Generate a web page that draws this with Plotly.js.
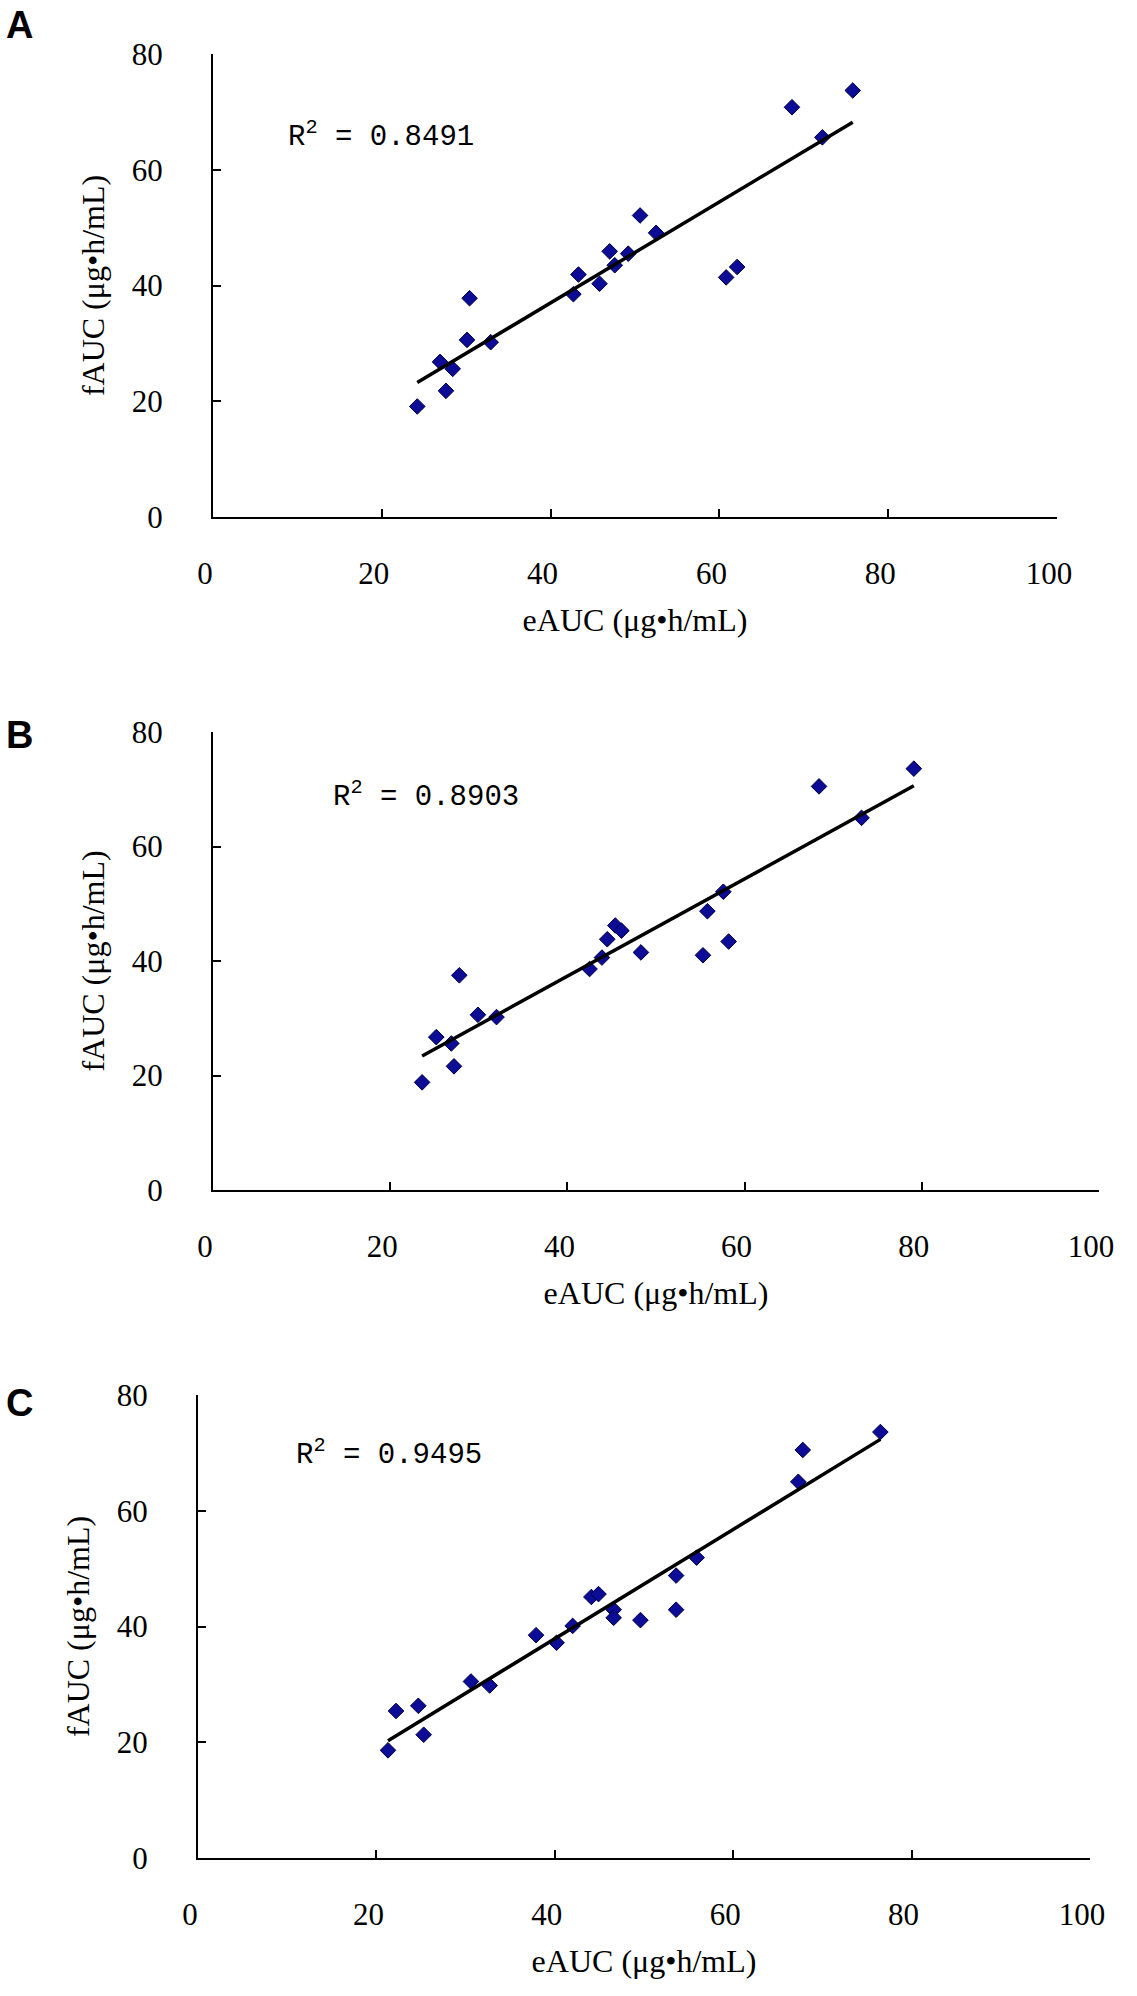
<!DOCTYPE html>
<html>
<head>
<meta charset="utf-8">
<script src="https://cdn.plot.ly/plotly-3.0.1.min.js"></script>
<style>html,body{margin:0;padding:0;background:#fff;}#chart{width:1137px;height:1996px;}</style>
</head>
<body>
<div id="chart"></div>
<script>
// ---- Data ----
const panelLabels = ["A", "B", "C"];
const r2Labels = ["0.8491", "0.8903", "0.9495"];

const eAUC_A = [24.2, 26.9, 27.6, 28.4, 30.1, 30.4, 32.9, 42.7, 43.3, 45.8, 47.0, 47.6, 49.2, 50.6, 52.5, 60.8, 62.1, 68.6, 72.2, 75.8];
const fAUC_A = [19.1, 26.8, 21.8, 25.6, 30.6, 37.8, 30.2, 38.5, 41.9, 40.3, 45.9, 43.5, 45.5, 52.1, 49.1, 41.4, 43.2, 70.8, 65.6, 73.7];

const eAUC_B = [23.6, 25.2, 26.9, 27.2, 27.8, 29.9, 32.0, 42.5, 43.9, 44.5, 45.4, 46.1, 48.3, 55.3, 55.8, 57.6, 58.2, 68.4, 73.2, 79.1];
const fAUC_B = [18.8, 26.7, 25.6, 21.6, 37.5, 30.6, 30.2, 38.6, 40.6, 43.8, 46.2, 45.3, 41.5, 41.0, 48.7, 52.1, 43.4, 70.5, 65.0, 73.6];

const eAUC_C = [21.3, 22.2, 24.7, 25.3, 30.6, 32.7, 37.9, 40.2, 42.0, 44.1, 44.9, 46.6, 46.6, 49.6, 53.6, 53.6, 55.9, 67.3, 67.8, 76.5];
const fAUC_C = [18.6, 25.4, 26.3, 21.3, 30.5, 29.8, 38.5, 37.2, 40.1, 45.1, 45.6, 42.9, 41.5, 41.1, 48.8, 42.9, 51.9, 65.0, 70.5, 73.6];

const xTickVals = [0, 20, 40, 60, 80, 100];
const yTickVals = [0, 20, 40, 60, 80];
const xTitle = "eAUC (μg•h/mL)";
const yTitle = "fAUC (μg•h/mL)";

// ---- helpers ----
const W = 1137, H = 1996;
const px = v => v / W;
const py = v => 1 - v / H;

function linfit(x, y) {
  const n = x.length;
  const mx = x.reduce((a, b) => a + b, 0) / n;
  const my = y.reduce((a, b) => a + b, 0) / n;
  let sxy = 0, sxx = 0;
  for (let i = 0; i < n; i++) { sxy += (x[i] - mx) * (y[i] - my); sxx += (x[i] - mx) ** 2; }
  const b = sxy / sxx, a = my - b * mx;
  const x0 = Math.min(...x), x1 = Math.max(...x);
  return { x: [x0, x1], y: [a + b * x0, a + b * x1] };
}

// panel geometry in pixels: [left, right(x=100), bottom(y=0), top(y=80)]
const geom = [
  [213, 1057, 517, 54],
  [213, 1099, 1190, 732],
  [198, 1090, 1858, 1395]
];
const r2Pos = [[286, 135], [331, 795], [294, 1453]];
const letterPos = [[4, 25], [4, 735], [4, 1403]];

const series = [[eAUC_A, fAUC_A], [eAUC_B, fAUC_B], [eAUC_C, fAUC_C]];

const serif = "Liberation Serif, Times New Roman, serif";
const traces = [];
const layout = {
  width: W, height: H,
  margin: { l: 0, r: 0, t: 0, b: 0 },
  paper_bgcolor: "#ffffff", plot_bgcolor: "#ffffff",
  showlegend: false,
  annotations: []
};

series.forEach((s, i) => {
  const sfx = i === 0 ? "" : String(i + 1);
  const xa = "x" + sfx, ya = "y" + sfx;
  traces.push({
    x: s[0], y: s[1], xaxis: xa, yaxis: ya,
    type: "scatter", mode: "markers",
    marker: { symbol: "diamond", size: 12, color: "#0c0c96", line: { color: "#000040", width: 1 } },
    hoverinfo: "skip"
  });
  const f = linfit(s[0], s[1]);
  traces.push({
    x: f.x, y: f.y, xaxis: xa, yaxis: ya,
    type: "scatter", mode: "lines",
    line: { color: "#000000", width: 3.5 },
    hoverinfo: "skip"
  });
  const g = geom[i];
  const axCommon = {
    showline: true, linecolor: "#000", linewidth: 2,
    ticks: "inside", ticklen: 8, tickwidth: 2, tickcolor: "#000",
    showgrid: false, zeroline: false,
    tickfont: { family: serif, size: 31, color: "#000" }
  };
  layout["xaxis" + sfx] = Object.assign({}, axCommon, {
    domain: [px(g[0]), px(g[1])], anchor: ya,
    range: [0, 100], tickvals: xTickVals, ticktext: xTickVals.map(String),
    ticklabelstandoff: 28, ticklabelshift: -8,
    title: { text: xTitle, standoff: 18, font: { family: serif, size: 32, color: "#000" } }
  });
  layout["yaxis" + sfx] = Object.assign({}, axCommon, {
    domain: [py(g[2]), py(g[3])], anchor: xa,
    range: [0, 80], tickvals: yTickVals, ticktext: yTickVals.map(String),
    ticklabelstandoff: 42,
    title: { text: yTitle, standoff: 18, font: { family: serif, size: 32, color: "#000" } }
  });
  layout.annotations.push({
    xref: "paper", yref: "paper", x: px(r2Pos[i][0]), y: py(r2Pos[i][1]),
    xanchor: "left", yanchor: "middle", showarrow: false,
    text: "R<sup>2</sup> = " + r2Labels[i],
    font: { family: "Liberation Mono, Courier New, monospace", size: 29, color: "#000" }
  });
  layout.annotations.push({
    xref: "paper", yref: "paper", x: px(letterPos[i][0]), y: py(letterPos[i][1]),
    xanchor: "left", yanchor: "middle", showarrow: false,
    text: "<b>" + panelLabels[i] + "</b>",
    font: { family: "Liberation Sans, Arial, sans-serif", size: 38, color: "#000" }
  });
});

Plotly.newPlot("chart", traces, layout, { staticPlot: true, displayModeBar: false });
</script>
</body>
</html>
